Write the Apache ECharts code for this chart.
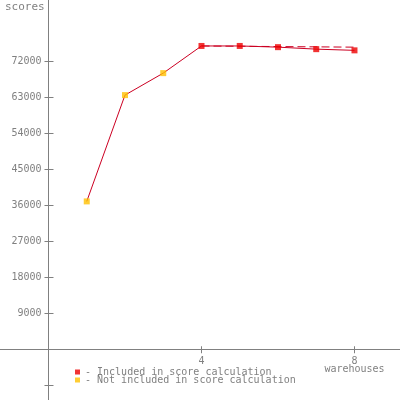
<!DOCTYPE html>
<html><head><meta charset="utf-8">
<script src="https://cdn.jsdelivr.net/npm/echarts@6/dist/echarts.min.js"></script>
<style>html,body{margin:0;padding:0;background:#fff}#c{width:400px;height:400px}</style>
</head><body><div id="c"></div>
<script>
var warehouses = [1, 2, 3, 4, 5, 6, 7, 8];
var scores = [37000, 63600, 69100, 75900, 75900, 75600, 75100, 74800];
var included = [false, false, false, true, true, true, true, true];
var refLineX = [4, 8];
var refLineY = [75900, 75600];
var yTicks = [-9000, 9000, 18000, 27000, 36000, 45000, 54000, 63000, 72000];
var yLabels = [9000, 18000, 27000, 36000, 45000, 54000, 63000, 72000];
var xTicks = [4, 8];
var legendNames = ['Included in score calculation', 'Not included in score calculation'];

var FONT = '"DejaVu Sans Mono", monospace';
var GRAY = '#808080';
var linePts = warehouses.map(function (w, i) { return [w, scores[i]]; });
var inPts = [], outPts = [];
warehouses.forEach(function (w, i) { (included[i] ? inPts : outPts).push([w, scores[i]]); });
var refPts = refLineX.map(function (x, i) { return [x, refLineY[i]]; });

var xRange = { min: -1.268, max: 9.19 };
var yRange = { min: -12700, max: 87400 };
// label grid: same scale, starting at the axis origin
var pxPerX = 400 / (xRange.max - xRange.min);
var pxPerY = 400 / (yRange.max - yRange.min);
var originLeft = -xRange.min * pxPerX;
var originBottom = -yRange.min * pxPerY;

var chart = echarts.init(document.getElementById('c'), null, { renderer: 'canvas' });
chart.setOption({
  animation: false,
  backgroundColor: '#fff',
  title: { text: 'scores', left: 0, top: -3, textStyle: { fontFamily: FONT, fontSize: 11, fontWeight: 'normal', color: GRAY } },
  grid: [
    { left: 0, right: 0, top: 0, bottom: 0, containLabel: false, outerBoundsMode: 'none' },
    { left: originLeft, right: 0, top: 0, bottom: originBottom, containLabel: false }
  ],
  legend: {
    orient: 'vertical', left: 75, top: 367, padding: 0, itemGap: -2, itemWidth: 5, itemHeight: 5, itemTextGap: 2,
    icon: 'rect', data: legendNames,
    formatter: function (n) { return '- ' + n; },
    textStyle: { fontFamily: FONT, fontSize: 10, color: GRAY, lineHeight: 8 }
  },
  xAxis: [{
    gridIndex: 0, type: 'value', min: xRange.min, max: xRange.max, splitLine: { show: false },
    axisLine: { onZero: true, lineStyle: { color: GRAY, width: 1 } },
    axisTick: { show: true, length: 4, customValues: xTicks, lineStyle: { color: GRAY } },
    axisLabel: { show: false }
  }, {
    gridIndex: 0, type: 'value', position: 'top', min: xRange.min, max: xRange.max, splitLine: { show: false },
    axisLine: { show: false, onZero: true, onZeroAxisIndex: 0 },
    axisTick: { show: true, length: 3, customValues: xTicks, lineStyle: { color: GRAY } },
    axisLabel: { show: false }
  }, {
    gridIndex: 1, type: 'value', min: 0, max: xRange.max, splitLine: { show: false },
    axisLine: { show: false }, axisTick: { show: false },
    axisLabel: { customValues: xTicks, margin: 8, fontFamily: FONT, fontSize: 10, color: GRAY, lineHeight: 8,
      formatter: function (v) { return v === 8 ? '8\nwarehouses' : String(v); } }
  }],
  yAxis: [{
    gridIndex: 0, type: 'value', min: yRange.min, max: yRange.max, splitLine: { show: false },
    axisLine: { onZero: true, lineStyle: { color: GRAY, width: 1 } },
    axisTick: { show: true, length: 4, customValues: yTicks, lineStyle: { color: GRAY } },
    axisLabel: { show: false }
  }, {
    gridIndex: 0, type: 'value', position: 'right', min: yRange.min, max: yRange.max, splitLine: { show: false },
    axisLine: { show: false, onZero: true, onZeroAxisIndex: 0 },
    axisTick: { show: true, length: 5, customValues: yTicks, lineStyle: { color: GRAY } },
    axisLabel: { show: false }
  }, {
    gridIndex: 1, type: 'value', min: 0, max: yRange.max, splitLine: { show: false },
    axisLine: { show: false }, axisTick: { show: false },
    axisLabel: { customValues: yLabels, margin: 7, fontFamily: FONT, fontSize: 10, color: GRAY,
      formatter: function (v) { return String(v); } }
  }],
  series: [
    { type: 'line', data: linePts, symbol: 'none', silent: true, z: 2,
      lineStyle: { color: '#cc0022', width: 1 } },
    { type: 'line', data: refPts, symbol: 'none', silent: true, z: 2,
      lineStyle: { color: '#cc0022', width: 1, type: [8, 4] } },
    { name: legendNames[0], type: 'scatter', data: inPts, symbol: 'rect', symbolSize: 6, z: 3,
      itemStyle: { color: '#ee0000' } },
    { name: legendNames[1], type: 'scatter', data: outPts, symbol: 'rect', symbolSize: 6, z: 3,
      itemStyle: { color: '#ffc000' } }
  ]
});
</script></body></html>
